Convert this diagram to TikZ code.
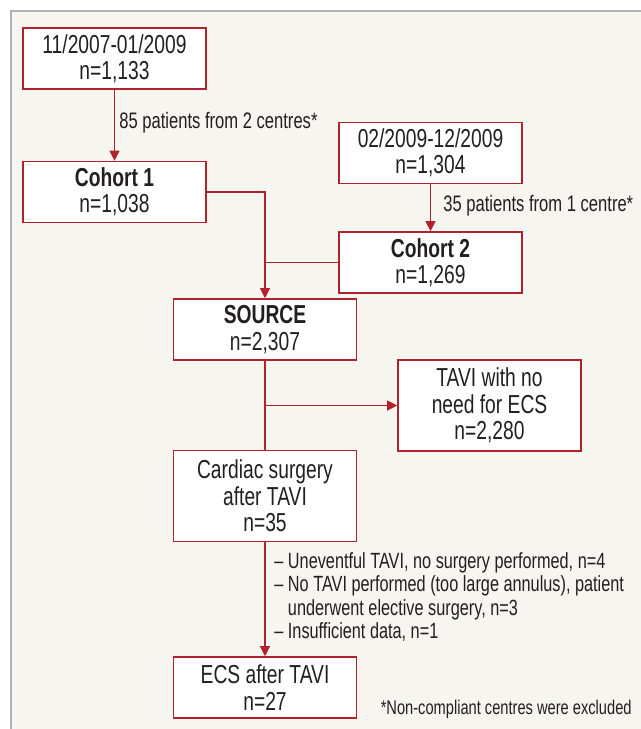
\documentclass[tikz,border=0pt]{standalone}
\usepackage{fontspec}
\setmainfont[FakeStretch=0.74]{Liberation Sans}
\usetikzlibrary{arrows.meta, positioning}
\definecolor{RD}{RGB}{178,34,46}
\definecolor{DG}{RGB}{35,31,32}
\definecolor{BG}{RGB}{246,245,239}
\definecolor{GR}{RGB}{178,178,178}

\begin{document}
\begin{tikzpicture}[x=0.5pt, y=-0.5pt,
  box/.style={draw=RD, line width=0.8pt, fill=white, minimum width=91.5pt,
              minimum height=30.5pt, align=center, text=DG, inner sep=0pt,
              font=\fontsize{13}{13.2}\selectfont},
  tallbox/.style={box, minimum height=45.5pt},
  link/.style={draw=RD, line width=0.55pt},
  arr/.style={link, -{Triangle[length=5pt,width=5pt]}},
  note/.style={text=DG, inner sep=0pt, font=\fontsize{11.2}{11.6}\selectfont}
]
\useasboundingbox (0,0) rectangle (641,729);
% Panel behind the chart
\fill[white] (0,0) rectangle (641,729);
\draw[GR, fill=BG, line width=0.8pt] (11,11) rectangle (660,750);

% Boxes
\node[box] (p1) at (114.5,58.5) {11/2007-01/2009\\n=1,133};
\node[box] (c1) at (114.5,192) {\textbf{Cohort 1}\\n=1,038};
\node[box] (p2) at (430.5,153) {02/2009-12/2009\\n=1,304};
\node[box] (c2) at (430.5,262.5) {\textbf{Cohort 2}\\n=1,269};
\node[box] (src) at (265,329.5) {\textbf{SOURCE}\\n=2,307};
\node[tallbox] (tavi) at (489.5,405.5) {TAVI with no\\need for ECS\\n=2,280};
\node[tallbox] (cs) at (265,496) {Cardiac surgery\\after TAVI\\n=35};
\node[box] (ecs) at (265,687.5) {ECS after TAVI\\n=27};

% Connectors
\draw[arr] (p1) -- (c1);
\draw[arr] (p2.south -| c2.north) -- (c2.north);
\draw[arr] (c1.east) -| (src.north);
\draw[link] (c2.west) -- (c2.west -| src.north);
\draw[link] (src.south) -- (cs.north);
\draw[arr] (src.south |- tavi.west) -- (tavi.west);
\draw[arr] (cs) -- (ecs);

% Exclusion notes
\node[note, anchor=west] (ex1) at (119,123) {85 patients from 2 centres*};
\node[note, anchor=west] (ex2) at (443,206) {35 patients from 1 centre*};
\node[note, anchor=west, align=left, font=\fontsize{11}{11.6}\selectfont]
  (ex3) at (274,597)
  {– Uneventful TAVI, no surgery performed, n=4\\
   – No TAVI performed (too large annulus), patient\\
   \phantom{– }underwent elective surgery, n=3\\
   – Insufficient data, n=1};
\node[note, anchor=east, font=\fontsize{9.9}{11}\selectfont] (fn) at (632,709)
  {*Non-compliant centres were excluded};
\end{tikzpicture}
\end{document}
